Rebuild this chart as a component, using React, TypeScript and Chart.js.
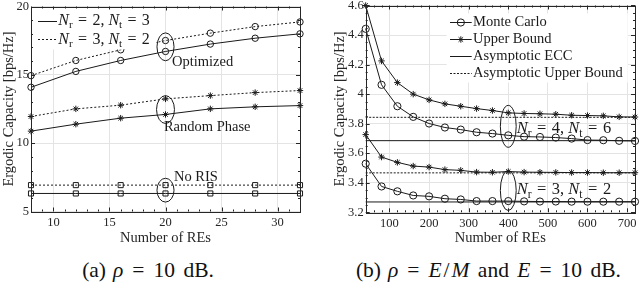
import React, { useEffect, useRef } from 'react';
import { Chart, registerables } from 'chart.js';

Chart.register(...registerables);

const SERIF = '"Liberation Serif", "Times New Roman", Times, serif';
const INK = '#1a1a1a';
const AXIS_INK = '#262626';
const GRID = '#e4e4e4';

// ---------------- Panel (a): rho = 10 dB ----------------
const reCountA = [8, 12, 16, 20, 24, 28, 32];
const optimizedN2T3 = [14.09, 15.25, 16.05, 16.71, 17.25, 17.68, 18.0];
const optimizedN3T2 = [14.94, 16.05, 16.83, 17.51, 18.05, 18.53, 18.87];
const randomN2T3 = [10.88, 11.39, 11.83, 12.1, 12.51, 12.66, 12.75];
const randomN3T2 = [11.95, 12.51, 12.78, 13.24, 13.48, 13.7, 13.85];
const noRisN2T3 = [6.32, 6.32, 6.32, 6.32, 6.32, 6.32, 6.32];
const noRisN3T2 = [6.93, 6.93, 6.93, 6.93, 6.93, 6.93, 6.93];
const xTicksA = [10, 15, 20, 25, 30];
const yTicksA = [5, 10, 15, 20];
const yTickLabelsA = ['5', '10', '15', '20'];
const legendNrA = [2, 3];
const legendNtA = [3, 2];

// ---------------- Panel (b): rho = E/M, E = 10 dB ----------------
const reCountB = [40, 80, 120, 160, 200, 240, 280, 320, 360, 400, 440, 480, 520, 560, 600, 640, 680, 720];
const upperN4T6 = [4.6, 4.225, 4.078, 4.0, 3.961, 3.934, 3.918, 3.902, 3.889, 3.873, 3.869, 3.867, 3.864, 3.857, 3.855, 3.853, 3.846, 3.845];
const monteN4T6 = [4.442, 4.063, 3.918, 3.846, 3.801, 3.774, 3.76, 3.742, 3.733, 3.721, 3.712, 3.71, 3.706, 3.699, 3.689, 3.688, 3.684, 3.683];
const upperN3T2 = [3.726, 3.574, 3.538, 3.513, 3.506, 3.489, 3.484, 3.472, 3.471, 3.476, 3.472, 3.471, 3.47, 3.469, 3.469, 3.468, 3.468, 3.468];
const monteN3T2 = [3.529, 3.375, 3.342, 3.314, 3.308, 3.292, 3.287, 3.276, 3.276, 3.276, 3.274, 3.273, 3.273, 3.272, 3.272, 3.272, 3.272, 3.272];
const asymEccN4T6 = 3.685;
const asymUpperN4T6 = 3.843;
const asymEccN3T2 = 3.27;
const asymUpperN3T2 = 3.467;
const xTicksB = [100, 200, 300, 400, 500, 600, 700];
const yTicksB = [3.2, 3.4, 3.6, 3.8, 4.0, 4.2, 4.4, 4.6];
const yTickLabelsB = ['3.2', '3.4', '3.6', '3.8', '4', '4.2', '4.4', '4.6'];
const legendLabelsB = ['Monte Carlo', 'Upper Bound', 'Asymptotic ECC', 'Asymptotic Upper Bound'];

type Run = { t: string; it?: boolean; sub?: boolean };

const EQ = '\u2004=\u2004';

function nrNtRuns(nr: number, nt: number): Run[] {
  return [
    { t: 'N', it: true }, { t: 'r', sub: true }, { t: EQ + nr + ', ' },
    { t: 'N', it: true }, { t: 't', sub: true }, { t: EQ + nt },
  ];
}

function drawRuns(ctx: CanvasRenderingContext2D, runs: Run[], x: number, y: number, size: number) {
  let cx = x;
  ctx.textAlign = 'left';
  ctx.textBaseline = 'middle';
  ctx.fillStyle = INK;
  for (const r of runs) {
    const fs = r.sub ? size * 0.7 : size;
    ctx.font = (r.it ? 'italic ' : '') + fs + 'px ' + SERIF;
    ctx.fillText(r.t, cx, y + (r.sub ? size * 0.3 : 0));
    cx += ctx.measureText(r.t).width;
  }
}

function drawMarker(ctx: CanvasRenderingContext2D, kind: string, x: number, y: number, r: number) {
  ctx.beginPath();
  if (kind === 'circle') {
    ctx.arc(x, y, r, 0, Math.PI * 2);
  } else if (kind === 'star') {
    for (let k = 0; k < 4; k++) {
      const a = (k * Math.PI) / 4;
      ctx.moveTo(x + r * Math.cos(a), y + r * Math.sin(a));
      ctx.lineTo(x - r * Math.cos(a), y - r * Math.sin(a));
    }
  } else if (kind === 'rect') {
    const s = r * Math.SQRT1_2;
    ctx.rect(x - s, y - s, 2 * s, 2 * s);
  }
  ctx.stroke();
}

const framePlugin = {
  id: 'matlabFrame',
  afterDatasetsDraw(chart: any, _args: any, opts: any) {
    const { ctx, chartArea } = chart;
    const { left, right, top, bottom } = chartArea;
    const xs = chart.scales.x;
    const ys = chart.scales.y;
    ctx.save();
    ctx.strokeStyle = AXIS_INK;
    ctx.lineWidth = 1;
    ctx.setLineDash([]);
    ctx.beginPath();
    const nx = Math.round((xs.max - xs.min) / opts.xMinor);
    for (let i = 0; i <= nx; i++) {
      const v = xs.min + i * opts.xMinor;
      const major = opts.xMajor.some((m: number) => Math.abs(m - v) < 1e-6);
      const len = major ? 4 : 2;
      const p = Math.round(xs.getPixelForValue(v)) + 0.5;
      ctx.moveTo(p, bottom); ctx.lineTo(p, bottom - len);
      ctx.moveTo(p, top); ctx.lineTo(p, top + len);
    }
    const ny = Math.round((ys.max - ys.min) / opts.yMinor);
    for (let i = 0; i <= ny; i++) {
      const v = ys.min + i * opts.yMinor;
      const major = opts.yMajor.some((m: number) => Math.abs(m - v) < 1e-6);
      const len = major ? 4 : 2;
      const p = Math.round(ys.getPixelForValue(v)) + 0.5;
      ctx.moveTo(left, p); ctx.lineTo(left + len, p);
      ctx.moveTo(right, p); ctx.lineTo(right - len, p);
    }
    ctx.stroke();
    ctx.strokeRect(Math.round(left) + 0.5, Math.round(top) + 0.5, Math.round(right - left), Math.round(bottom - top));
    ctx.restore();
  },
};

const notesPlugin = {
  id: 'notes',
  afterDraw(chart: any, _args: any, opts: any) {
    const { ctx, chartArea } = chart;
    const xs = chart.scales.x;
    const ys = chart.scales.y;
    ctx.save();
    ctx.strokeStyle = INK;
    ctx.lineWidth = 1;
    for (const e of opts.ellipses || []) {
      const cx = xs.getPixelForValue(e.x);
      const cy = ys.getPixelForValue(e.y);
      const rx = Math.abs(xs.getPixelForValue(e.x + e.dx) - cx);
      const ry = Math.abs(ys.getPixelForValue(e.y + e.dy) - cy);
      ctx.beginPath();
      ctx.ellipse(cx, cy, rx, ry, 0, 0, Math.PI * 2);
      ctx.stroke();
    }
    for (const l of opts.labels || []) {
      drawRuns(ctx, l.runs, xs.getPixelForValue(l.x), ys.getPixelForValue(l.y), l.size);
    }
    const lg = opts.legend;
    if (lg) {
      const bx = chartArea.left + lg.bg[0];
      const by = chartArea.top + lg.bg[1];
      ctx.fillStyle = '#ffffff';
      ctx.fillRect(bx, by, lg.bg[2], lg.bg[3]);
      lg.items.forEach((it: any, i: number) => {
        const y = chartArea.top + lg.y0 + i * lg.rowH;
        const x0 = chartArea.left + lg.x0;
        ctx.strokeStyle = INK;
        ctx.lineWidth = 1;
        ctx.setLineDash(it.dash || []);
        ctx.beginPath();
        ctx.moveTo(x0, Math.round(y) + 0.5);
        ctx.lineTo(x0 + lg.sampleW, Math.round(y) + 0.5);
        ctx.stroke();
        ctx.setLineDash([]);
        if (it.marker) drawMarker(ctx, it.marker, x0 + lg.sampleW / 2, Math.round(y) + 0.5, it.r);
        drawRuns(ctx, it.runs, x0 + lg.sampleW + lg.gap, y, lg.size);
      });
    }
    ctx.restore();
  },
};

function series(xs: number[], ys: number[], opt: { dash?: number[]; marker?: string; r?: number }) {
  return {
    data: xs.map((x, i) => ({ x, y: ys[i] })),
    borderColor: INK,
    borderWidth: 1,
    borderDash: opt.dash || [],
    pointStyle: opt.marker || 'circle',
    pointRadius: opt.marker ? opt.r : 0,
    pointHoverRadius: opt.marker ? opt.r : 0,
    pointBorderColor: INK,
    pointBackgroundColor: 'rgba(0,0,0,0)',
    pointBorderWidth: 1,
    fill: false,
    tension: 0,
    clip: false,
  };
}

function scales(p: any) {
  return {
    x: {
      type: 'linear',
      min: p.xMin,
      max: p.xMax,
      afterBuildTicks: (s: any) => { s.ticks = p.xTicks.map((value: number) => ({ value })); },
      ticks: {
        autoSkip: false, maxRotation: 0, padding: 3.5, color: AXIS_INK,
        font: { family: SERIF, size: 12.5 },
        callback: (v: number) => String(v),
      },
      grid: { color: GRID, drawTicks: false, lineWidth: 1 },
      border: { display: false },
      title: {
        display: true, text: 'Number of REs', color: AXIS_INK,
        font: { family: SERIF, size: 14.5 }, padding: { top: 0, bottom: 3 },
      },
      afterFit: (s: any) => { s.height = p.xAxisH; s.paddingLeft = 0; s.paddingRight = 0; },
    },
    y: {
      type: 'linear',
      min: p.yMin,
      max: p.yMax,
      afterBuildTicks: (s: any) => { s.ticks = p.yTicks.map((value: number) => ({ value })); },
      ticks: {
        autoSkip: false, padding: 2, color: AXIS_INK,
        font: { family: SERIF, size: 12.5 },
        callback: (_v: number, i: number) => p.yLabels[i],
      },
      grid: { color: GRID, drawTicks: false, lineWidth: 1 },
      border: { display: false },
      title: {
        display: true, text: 'Ergodic Capacity [bps/Hz]', color: AXIS_INK,
        font: { family: SERIF, size: 14.5 }, padding: { top: p.yTitlePad, bottom: 0 },
      },
      afterFit: (s: any) => { s.width = p.yAxisW; s.paddingTop = 0; s.paddingBottom = 0; },
    },
  };
}

function configA(): any {
  return {
    type: 'line',
    data: {
      datasets: [
        series(reCountA, noRisN2T3, { marker: 'rect', r: 3.6 }),
        series(reCountA, noRisN3T2, { dash: [2, 2], marker: 'rect', r: 3.6 }),
        series(reCountA, randomN2T3, { marker: 'star', r: 3.2 }),
        series(reCountA, randomN3T2, { dash: [2, 2], marker: 'star', r: 3.2 }),
        series(reCountA, optimizedN2T3, { marker: 'circle', r: 3.2 }),
        series(reCountA, optimizedN3T2, { dash: [2, 2], marker: 'circle', r: 3.2 }),
      ],
    },
    options: {
      responsive: false,
      animation: false,
      devicePixelRatio: 1,
      events: [],
      layout: { padding: { left: 0, top: 6.5, right: 20, bottom: 0 } },
      scales: scales({
        xMin: 8, xMax: 32, xTicks: xTicksA, yMin: 5, yMax: 20, yTicks: yTicksA, yLabels: yTickLabelsA,
        xAxisH: 38.5, yAxisW: 31, yTitlePad: 0,
      }),
      plugins: {
        legend: { display: false },
        tooltip: { enabled: false },
        matlabFrame: { xMinor: 1, yMinor: 1, xMajor: xTicksA, yMajor: yTicksA },
        notes: {
          ellipses: [
            { x: 20, y: 17.05, dx: 0.76, dy: 1.02 },
            { x: 20, y: 12.46, dx: 0.8, dy: 1.02 },
            { x: 20, y: 6.56, dx: 0.76, dy: 0.87 },
          ],
          labels: [
            { x: 20.58, y: 15.9, size: 14.5, runs: [{ t: 'Optimized' }] },
            { x: 19.86, y: 11.15, size: 14.5, runs: [{ t: 'Random Phase' }] },
            { x: 20.76, y: 7.53, size: 14.5, runs: [{ t: 'No RIS' }] },
          ],
          legend: {
            x0: 7, y0: 14.2, rowH: 18.6, sampleW: 19, gap: 1.3, size: 16,
            bg: [3, 3, 122, 40],
            items: [
              { dash: [], runs: nrNtRuns(legendNrA[0], legendNtA[0]) },
              { dash: [2, 2], runs: nrNtRuns(legendNrA[1], legendNtA[1]) },
            ],
          },
        },
      },
    },
    plugins: [framePlugin, notesPlugin],
  };
}

function configB(): any {
  const x0 = reCountB[0];
  const x1 = reCountB[reCountB.length - 1];
  const flat = (v: number, dash: number[]) => series([x0, x1], [v, v], { dash });
  return {
    type: 'line',
    data: {
      datasets: [
        flat(asymEccN4T6, []),
        flat(asymUpperN4T6, [2, 1.5]),
        flat(asymEccN3T2, []),
        flat(asymUpperN3T2, [2, 1.5]),
        series(reCountB, monteN3T2, { marker: 'circle', r: 3.6 }),
        series(reCountB, upperN3T2, { marker: 'star', r: 3.2 }),
        series(reCountB, monteN4T6, { marker: 'circle', r: 3.6 }),
        series(reCountB, upperN4T6, { marker: 'star', r: 3.2 }),
      ],
    },
    options: {
      responsive: false,
      animation: false,
      devicePixelRatio: 1,
      events: [],
      layout: { padding: { left: 0, top: 5.5, right: 5, bottom: 0 } },
      scales: scales({
        xMin: 40, xMax: 720, xTicks: xTicksB, yMin: 3.2, yMax: 4.6, yTicks: yTicksB, yLabels: yTickLabelsB,
        xAxisH: 37.7, yAxisW: 45.7, yTitlePad: 11.3,
      }),
      plugins: {
        legend: { display: false },
        tooltip: { enabled: false },
        matlabFrame: { xMinor: 20, yMinor: 0.05, xMajor: xTicksB, yMajor: yTicksB },
        notes: {
          ellipses: [
            { x: 400, y: 3.782, dx: 20, dy: 0.142 },
            { x: 400, y: 3.348, dx: 20, dy: 0.136 },
          ],
          labels: [
            { x: 421.3, y: 3.767, size: 16.5, runs: nrNtRuns(4, 6) },
            { x: 421.3, y: 3.354, size: 16.5, runs: nrNtRuns(3, 2) },
          ],
          legend: {
            x0: 84.3, y0: 16.8, rowH: 16.8, sampleW: 21.7, gap: 1.3, size: 14.5,
            bg: [81, 8, 181, 69],
            items: [
              { dash: [], marker: 'circle', r: 3.6, runs: [{ t: legendLabelsB[0] }] },
              { dash: [], marker: 'star', r: 3.2, runs: [{ t: legendLabelsB[1] }] },
              { dash: [], runs: [{ t: legendLabelsB[2] }] },
              { dash: [2, 1.5], runs: [{ t: legendLabelsB[3] }] },
            ],
          },
        },
      },
    },
    plugins: [framePlugin, notesPlugin],
  };
}

function Panel({ make, left }: { make: () => any; left: number }) {
  const ref = useRef<HTMLCanvasElement>(null);
  useEffect(() => {
    const chart = new Chart(ref.current as HTMLCanvasElement, make());
    return () => chart.destroy();
  }, [make]);
  return (
    <canvas
      ref={ref}
      width={320}
      height={250}
      style={{ position: 'absolute', left, top: 0, width: 320, height: 250 }}
    />
  );
}

const capStyle: React.CSSProperties = {
  position: 'absolute',
  top: 259.7,
  fontFamily: SERIF,
  fontSize: 21.5,
  lineHeight: '21.5px',
  color: '#111',
  textAlign: 'center',
  whiteSpace: 'nowrap',
  wordSpacing: 3,
};
const eq: React.CSSProperties = { margin: '0 9px' };
const gap: React.CSSProperties = { marginLeft: 7 };
const slash: React.CSSProperties = { margin: '0 2px' };

export default function App() {
  return (
    <div style={{ position: 'fixed', left: 0, top: 0, width: 640, height: 282, background: '#fff', overflow: 'hidden' }}>
      <Panel make={configA} left={0} />
      <Panel make={configB} left={320} />
      <div style={{ ...capStyle, left: 48, width: 200 }}>
        (a)<span style={gap}><i>ρ</i></span><span style={eq}>=</span>10 dB.
      </div>
      <div style={{ ...capStyle, left: 288.4, width: 400 }}>
        (b)<span style={gap}><i>ρ</i></span><span style={eq}>=</span><i>E</i><span style={slash}>/</span><i>M</i> and <i>E</i><span style={eq}>=</span>10 dB.
      </div>
    </div>
  );
}
